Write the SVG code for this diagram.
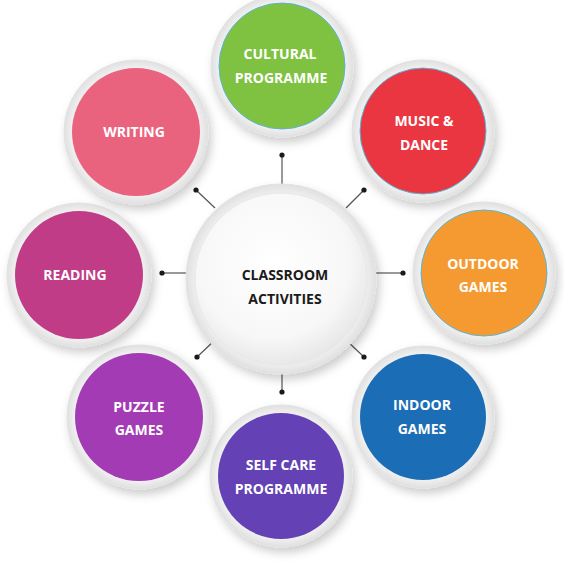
<svg xmlns="http://www.w3.org/2000/svg" width="564" height="564" viewBox="0 0 564 564">
<defs>
<filter id="sh" x="-30%" y="-30%" width="160%" height="160%">
<feDropShadow dx="3" dy="5" stdDeviation="5" flood-color="#000" flood-opacity="0.2"/>
</filter>
<radialGradient id="ringG" cx="50%" cy="50%" r="50%">
<stop offset="85%" stop-color="#f6f6f6"/>
<stop offset="100%" stop-color="#e0e0e0"/>
</radialGradient>
<radialGradient id="centerG" cx="45%" cy="40%" r="60%">
<stop offset="0%" stop-color="#ffffff"/>
<stop offset="75%" stop-color="#f7f7f7"/>
<stop offset="100%" stop-color="#e8e8e8"/>
</radialGradient>
</defs>
<style>
.ring{fill:url(#ringG);stroke:#e2e2e2;stroke-width:1;filter:url(#sh)}
.lbl{font-family:"Open Sans","Liberation Sans",sans-serif;font-weight:700;font-size:14px;fill:#ffffff;text-anchor:middle}
.clbl{font-family:"Open Sans","Liberation Sans",sans-serif;font-weight:700;font-size:14px;fill:#1a1a1a;text-anchor:middle}
.ln{stroke:#555;stroke-width:1.2}
.dot{fill:#1a1a1a}
.rim{stroke:#5ab4d8;stroke-width:1}
</style>
<rect width="564" height="564" fill="#ffffff"/>
<g id="connectors">
<line class="ln" x1="282" y1="155" x2="282" y2="185"/><circle class="dot" cx="282" cy="155" r="2.6"/>
<line class="ln" x1="364" y1="190" x2="346" y2="208"/><circle class="dot" cx="364" cy="190" r="2.6"/>
<line class="ln" x1="403" y1="273" x2="376" y2="273"/><circle class="dot" cx="403" cy="273" r="2.6"/>
<line class="ln" x1="364" y1="357" x2="346" y2="340"/><circle class="dot" cx="364" cy="357" r="2.6"/>
<line class="ln" x1="282" y1="392" x2="282" y2="368"/><circle class="dot" cx="282" cy="392" r="2.6"/>
<line class="ln" x1="197" y1="357" x2="215" y2="340"/><circle class="dot" cx="197" cy="357" r="2.6"/>
<line class="ln" x1="162" y1="273" x2="188" y2="273"/><circle class="dot" cx="162" cy="273" r="2.6"/>
<line class="ln" x1="196" y1="190" x2="215" y2="208"/><circle class="dot" cx="196" cy="190" r="2.6"/>
</g>
<g id="center">
<circle class="ring" cx="281" cy="279" r="95"/>
<circle cx="281" cy="279" r="86" fill="url(#centerG)" stroke="#e8e8e8" stroke-width="1"/>
<text class="clbl" x="285" y="280">CLASSROOM</text>
<text class="clbl" x="285" y="304">ACTIVITIES</text>
</g>
<g id="cultural">
<circle class="ring" cx="282" cy="66" r="71"/>
<circle class="rim" cx="282" cy="66" r="63" fill="#7fc241"/>
<text class="lbl" x="280" y="59">CULTURAL</text>
<text class="lbl" x="281" y="83">PROGRAMME</text>
</g>
<g id="music">
<circle class="ring" cx="423" cy="131" r="71"/>
<circle class="rim" cx="423" cy="131" r="63" fill="#ea3640"/>
<text class="lbl" x="424" y="126">MUSIC &amp;</text>
<text class="lbl" x="424" y="150">DANCE</text>
</g>
<g id="outdoor">
<circle class="ring" cx="484" cy="273" r="71"/>
<circle class="rim" cx="484" cy="273" r="63" fill="#f59a31"/>
<text class="lbl" x="483" y="269">OUTDOOR</text>
<text class="lbl" x="483" y="292">GAMES</text>
</g>
<g id="indoor">
<circle class="ring" cx="423" cy="417" r="71"/>
<circle cx="423" cy="417" r="63" fill="#1b6db5"/>
<text class="lbl" x="422" y="410">INDOOR</text>
<text class="lbl" x="422" y="434">GAMES</text>
</g>
<g id="selfcare">
<circle class="ring" cx="281" cy="476" r="71"/>
<circle cx="281" cy="476" r="63" fill="#6441b5"/>
<text class="lbl" x="281" y="470">SELF CARE</text>
<text class="lbl" x="281" y="494">PROGRAMME</text>
</g>
<g id="puzzle">
<circle class="ring" cx="139" cy="417" r="72"/>
<circle cx="139" cy="417" r="64" fill="#a23bb4"/>
<text class="lbl" x="139" y="412">PUZZLE</text>
<text class="lbl" x="139" y="435">GAMES</text>
</g>
<g id="reading">
<circle class="ring" cx="79" cy="275" r="72"/>
<circle cx="79" cy="275" r="64" fill="#c13c86"/>
<text class="lbl" x="75" y="280">READING</text>
</g>
<g id="writing">
<circle class="ring" cx="136" cy="132" r="72"/>
<circle cx="136" cy="132" r="64" fill="#e9637f"/>
<text class="lbl" x="134" y="137">WRITING</text>
</g>
</svg>
